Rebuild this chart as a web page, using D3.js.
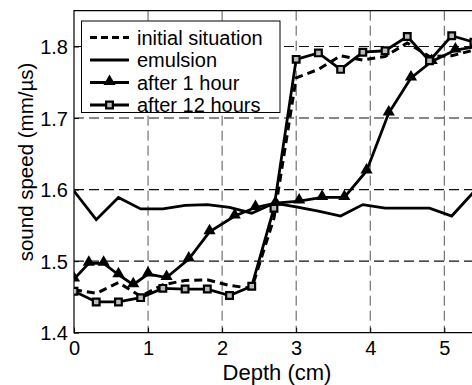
<!DOCTYPE html>
<html>
<head>
<meta charset="utf-8">
<script src="https://cdn.jsdelivr.net/npm/d3@7"></script>
<style>
  body { margin: 0; background: #fff; }
  svg { display: block; font-family: "Liberation Sans", Arial, sans-serif; }
</style>
</head>
<body>
<script>
// depth grid shared by the three unmarked/square series (cm)
var depth = [0, 0.3, 0.6, 0.9, 1.2, 1.5, 1.8, 2.1, 2.4, 2.7, 3.0, 3.3, 3.6, 3.9, 4.2, 4.5, 4.8, 5.1, 5.4];

var initialSituation = [1.460, 1.455, 1.470, 1.451, 1.467, 1.473, 1.474, 1.466, 1.462, 1.560, 1.756, 1.768, 1.787, 1.781, 1.786, 1.805, 1.786, 1.787, 1.795];
var emulsion = [1.598, 1.558, 1.589, 1.573, 1.573, 1.578, 1.579, 1.575, 1.567, 1.581, 1.576, 1.570, 1.563, 1.579, 1.574, 1.574, 1.574, 1.563, 1.597];
var after12h = [1.458, 1.443, 1.443, 1.449, 1.462, 1.461, 1.461, 1.452, 1.465, 1.574, 1.782, 1.791, 1.768, 1.792, 1.794, 1.814, 1.780, 1.815, 1.806];

// after 1 hour was sampled on its own depths
var depth1h = [0, 0.2, 0.4, 0.6, 0.8, 1.0, 1.25, 1.55, 1.83, 2.17, 2.45, 2.72, 3.04, 3.35, 3.65, 3.95, 4.25, 4.55, 4.83, 5.15, 5.45];
var after1h = [1.475, 1.497, 1.497, 1.481, 1.467, 1.482, 1.477, 1.503, 1.541, 1.563, 1.575, 1.581, 1.584, 1.589, 1.589, 1.626, 1.707, 1.756, 1.779, 1.795, 1.800];

var xTicks = [0, 1, 2, 3, 4, 5];
var yTicks = [1.4, 1.5, 1.6, 1.7, 1.8];
var legendLabels = ["initial situation", "emulsion", "after 1 hour", "after 12 hours"];

var W = 472, H = 385;
var plotLeft = 74, plotTop = 10.7, plotBottom = 332.7;

var x = d3.scaleLinear().domain([0, 5.5]).range([plotLeft, plotLeft + 5.5 * 74.06]);
var y = d3.scaleLinear().domain([1.4, 1.85]).range([plotBottom, plotTop]);

var svg = d3.select("body")
    .append("svg")
    .attr("width", W)
    .attr("height", H);

svg.append("defs").append("clipPath")
    .attr("id", "plot")
    .append("rect")
    .attr("x", plotLeft)
    .attr("y", plotTop - 1)
    .attr("width", W - plotLeft)
    .attr("height", plotBottom - plotTop + 2);

// grid
svg.selectAll(".vgrid")
    .data(xTicks.filter(d => d > 0))
    .enter()
    .append("line")
    .attr("class", "vgrid")
    .attr("x1", d => x(d))
    .attr("x2", d => x(d))
    .attr("y1", plotTop)
    .attr("y2", plotBottom)
    .attr("stroke", "#555")
    .attr("stroke-width", 1)
    .attr("stroke-dasharray", "10,5");

svg.selectAll(".hgrid")
    .data(yTicks.filter(d => d > 1.4))
    .enter()
    .append("line")
    .attr("class", "hgrid")
    .attr("x1", plotLeft)
    .attr("x2", W)
    .attr("y1", d => y(d))
    .attr("y2", d => y(d))
    .attr("stroke", "#111")
    .attr("stroke-width", 1.1)
    .attr("stroke-dasharray", "10,5");

// frame: left, bottom, top
svg.append("path")
    .attr("d", "M" + W + "," + plotTop + "H" + plotLeft + "V" + plotBottom + "H" + W)
    .attr("fill", "none")
    .attr("stroke", "#000")
    .attr("stroke-width", 1.2);

// axes with inward ticks
var xAxis = svg.append("g")
    .attr("transform", "translate(0," + plotBottom + ")")
    .call(d3.axisBottom(x).tickValues(xTicks).tickSize(-5).tickPadding(8).tickFormat(d3.format("d")));
var yAxis = svg.append("g")
    .attr("transform", "translate(" + plotLeft + ",0)")
    .call(d3.axisLeft(y).tickValues(yTicks).tickSize(-5).tickPadding(6).tickFormat(d3.format(".1f")));

[xAxis, yAxis].forEach(g => {
    g.select(".domain").remove();
    g.selectAll("line").attr("stroke", "#000");
    g.selectAll("text")
        .attr("font-size", 20)
        .attr("fill", "#000")
        .attr("font-family", "Liberation Sans, Arial, sans-serif");
});
xAxis.selectAll("text").attr("dy", "0.71em");
yAxis.selectAll("text").attr("dy", "0.36em");

svg.append("text")
    .attr("x", 277)
    .attr("y", 380)
    .attr("text-anchor", "middle")
    .attr("font-size", 22)
    .text("Depth (cm)");

svg.append("text")
    .attr("transform", "translate(33,162) rotate(-90)")
    .attr("text-anchor", "middle")
    .attr("font-size", 20.5)
    .text("sound speed (mm/\u00b5s)");

// data
var plot = svg.append("g").attr("clip-path", "url(#plot)");

var line = d3.line()
    .x(d => x(d[0]))
    .y(d => y(d[1]));

var emulsionPts = d3.zip(depth, emulsion);
var initialPts = d3.zip(depth, initialSituation);
var h12Pts = d3.zip(depth, after12h);
var h1Pts = d3.zip(depth1h, after1h);

plot.append("path")
    .datum(emulsionPts)
    .attr("d", line)
    .attr("fill", "none")
    .attr("stroke", "#000")
    .attr("stroke-width", 2.8);

plot.append("path")
    .datum(h1Pts)
    .attr("d", line)
    .attr("fill", "none")
    .attr("stroke", "#000")
    .attr("stroke-width", 2.8);

plot.append("path")
    .datum(initialPts)
    .attr("d", line)
    .attr("fill", "none")
    .attr("stroke", "#000")
    .attr("stroke-width", 3)
    .attr("stroke-dasharray", "8,5");

plot.append("path")
    .datum(h12Pts)
    .attr("d", line)
    .attr("fill", "none")
    .attr("stroke", "#000")
    .attr("stroke-width", 2.8);

var tri = d3.symbol().type(d3.symbolTriangle).size(64);
var sq = d3.symbol().type(d3.symbolSquare).size(45);

plot.selectAll(".tri")
    .data(h1Pts)
    .enter()
    .append("path")
    .attr("class", "tri")
    .attr("d", tri)
    .attr("transform", d => "translate(" + x(d[0]) + "," + (y(d[1]) - 1) + ")")
    .attr("fill", "#000");

plot.selectAll(".sq")
    .data(h12Pts)
    .enter()
    .append("path")
    .attr("class", "sq")
    .attr("d", sq)
    .attr("transform", d => "translate(" + x(d[0]) + "," + y(d[1]) + ")")
    .attr("fill", "#bbb")
    .attr("stroke", "#000")
    .attr("stroke-width", 2.2);

// legend
var lg = svg.append("g");
lg.append("rect")
    .attr("x", 81.5)
    .attr("y", 21)
    .attr("width", 198.5)
    .attr("height", 91.5)
    .attr("fill", "#fff")
    .attr("stroke", "#000")
    .attr("stroke-width", 1);

var rows = lg.selectAll(".row")
    .data(legendLabels)
    .enter()
    .append("g")
    .attr("class", "row")
    .attr("transform", (d, i) => "translate(0," + (37.5 + i * 22.5) + ")");

rows.append("line")
    .attr("x1", 90)
    .attr("x2", 129)
    .attr("stroke", "#000")
    .attr("stroke-width", 2.8)
    .attr("stroke-dasharray", (d, i) => i === 0 ? "7,4" : null);

rows.filter((d, i) => i === 2).append("path")
    .attr("d", tri)
    .attr("transform", "translate(109.5,-1)")
    .attr("fill", "#000");

rows.filter((d, i) => i === 3).append("path")
    .attr("d", sq)
    .attr("transform", "translate(109.5,0)")
    .attr("fill", "#bbb")
    .attr("stroke", "#000")
    .attr("stroke-width", 2.2);

rows.append("text")
    .attr("x", 137)
    .attr("y", 7)
    .attr("font-size", 20)
    .text(d => d);
</script>
</body>
</html>
